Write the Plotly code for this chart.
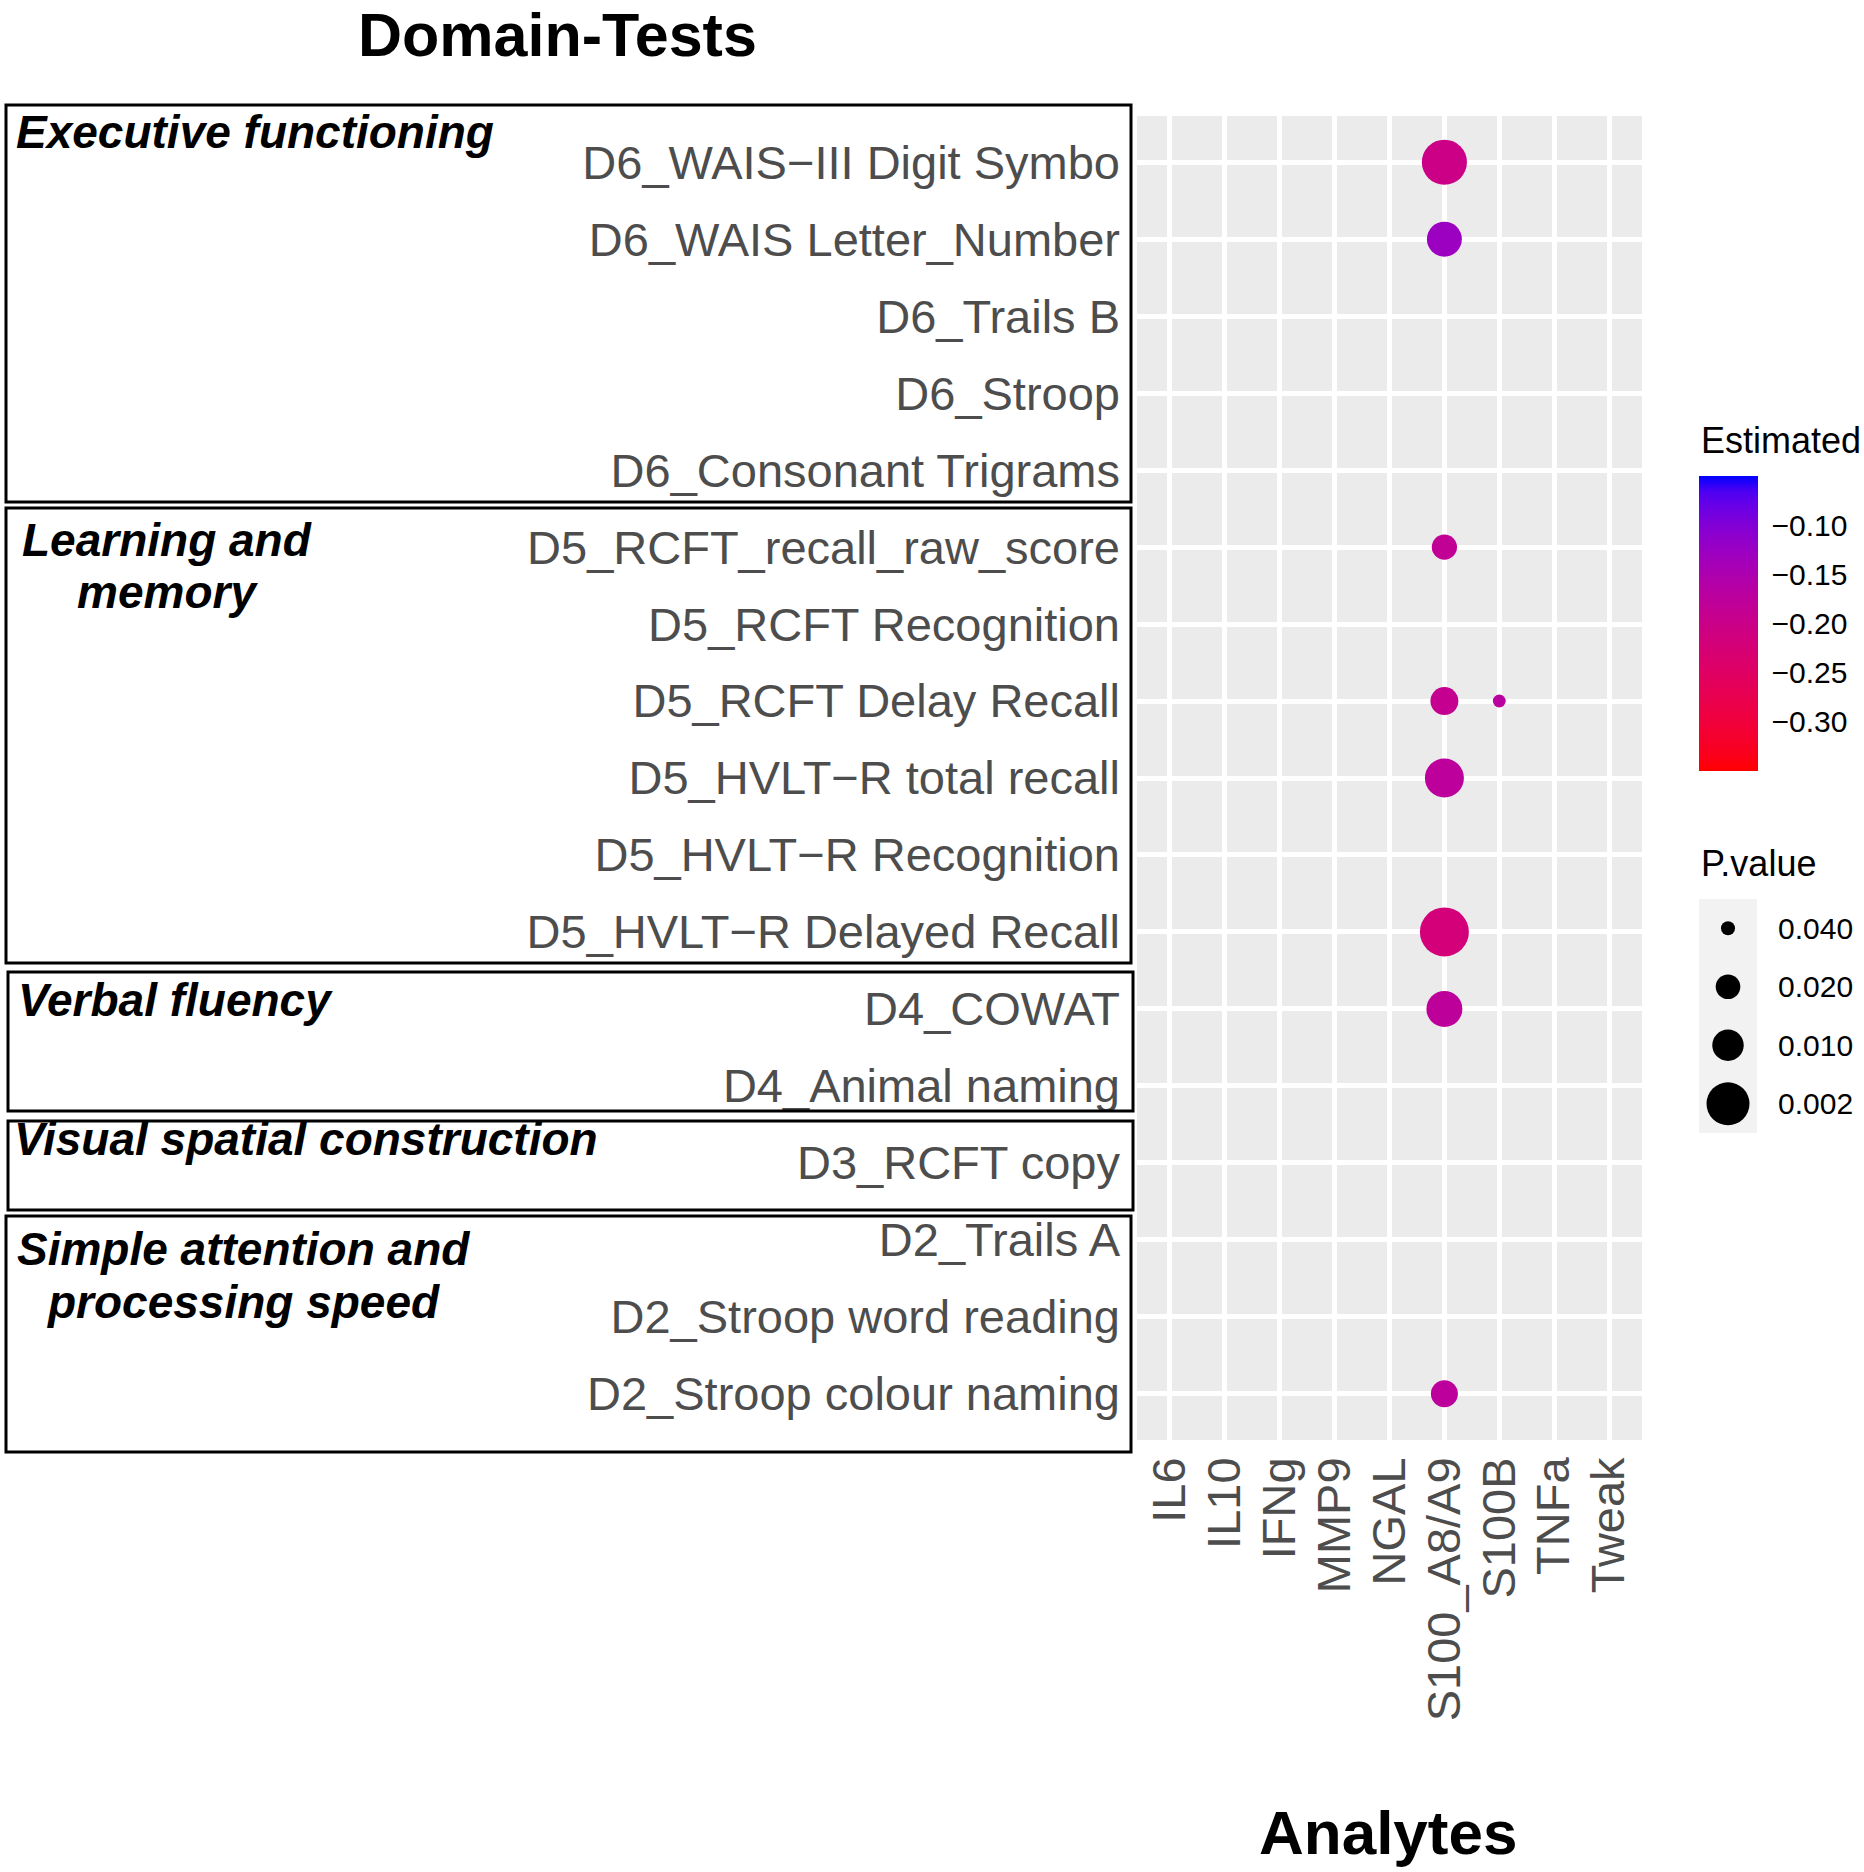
import numpy as np
import plotly.graph_objects as go

# ---------------- data ----------------
tests = [
    "D6_WAIS−III Digit Symbo", "D6_WAIS Letter_Number", "D6_Trails B", "D6_Stroop",
    "D6_Consonant Trigrams", "D5_RCFT_recall_raw_score", "D5_RCFT Recognition",
    "D5_RCFT Delay Recall", "D5_HVLT−R total recall", "D5_HVLT−R Recognition",
    "D5_HVLT−R Delayed Recall", "D4_COWAT", "D4_Animal naming", "D3_RCFT copy",
    "D2_Trails A", "D2_Stroop word reading", "D2_Stroop colour naming",
]
analytes = ["IL6", "IL10", "IFNg", "MMP9", "NGAL", "S100_A8/A9", "S100B", "TNFa", "Tweak"]

point_test = [
    "D6_WAIS−III Digit Symbo", "D6_WAIS Letter_Number", "D5_RCFT_recall_raw_score",
    "D5_RCFT Delay Recall", "D5_RCFT Delay Recall", "D5_HVLT−R total recall",
    "D5_HVLT−R Delayed Recall", "D4_COWAT", "D2_Stroop colour naming",
]
point_analyte = ["S100_A8/A9", "S100_A8/A9", "S100_A8/A9", "S100_A8/A9", "S100B",
                 "S100_A8/A9", "S100_A8/A9", "S100_A8/A9", "S100_A8/A9"]
estimated = [-0.203, -0.127, -0.184, -0.19, -0.17, -0.176, -0.22, -0.177, -0.176]
p_value = [0.0014, 0.0065, 0.019, 0.0146, 0.042, 0.0037, 0.0007, 0.0057, 0.016]

domains = ["Executive functioning", "Learning and|memory", "Verbal fluency",
           "Visual spatial construction", "Simple attention and|processing speed"]

color_ticks = [-0.30, -0.25, -0.20, -0.15, -0.10]
color_limits = [-0.35, -0.05]
size_breaks = [0.040, 0.020, 0.010, 0.002]
size_break_labels = ["0.040", "0.020", "0.010", "0.002"]

# ---------------- helpers ----------------
W, H = 1864, 1872
FONT = "Liberation Sans, Arial, Helvetica, sans-serif"


def px(x):
    return x / W


def py(y):
    return 1 - y / H


def size_scale(p):
    p = np.asarray(p, dtype=float)
    return 3.6 + 33.3 * np.sqrt(np.clip(-np.log10(p) - 1.3, 0, None))


def srgb_to_lab(rgb):
    c = np.array(rgb, dtype=float) / 255.0
    c = np.where(c > 0.04045, ((c + 0.055) / 1.055) ** 2.4, c / 12.92)
    M = np.array([[0.4124, 0.3576, 0.1805], [0.2126, 0.7152, 0.0722], [0.0193, 0.1192, 0.9505]])
    xyz = M @ c
    xyz = xyz / np.array([0.95047, 1.0, 1.08883])
    f = np.where(xyz > 0.008856, np.cbrt(xyz), 7.787 * xyz + 16 / 116)
    return np.array([116 * f[1] - 16, 500 * (f[0] - f[1]), 200 * (f[1] - f[2])])


def lab_to_srgb(lab):
    L, a, b = lab
    fy = (L + 16) / 116
    fx = fy + a / 500
    fz = fy - b / 200
    f = np.array([fx, fy, fz])
    xyz = np.where(f ** 3 > 0.008856, f ** 3, (f - 16 / 116) / 7.787)
    xyz = xyz * np.array([0.95047, 1.0, 1.08883])
    Mi = np.array([[3.2406, -1.5372, -0.4986], [-0.9689, 1.8758, 0.0415], [0.0557, -0.2040, 1.0570]])
    c = Mi @ xyz
    c = np.clip(c, 0, 1)
    c = np.where(c > 0.0031308, 1.055 * c ** (1 / 2.4) - 0.055, 12.92 * c)
    c = np.clip(np.round(c * 255), 0, 255).astype(int)
    return "rgb(%d,%d,%d)" % tuple(c)


lab_low = srgb_to_lab([255, 0, 0])
lab_high = srgb_to_lab([0, 0, 255])
colorscale = [[t, lab_to_srgb(lab_low + (lab_high - lab_low) * t)] for t in np.linspace(0, 1, 21)]

# colorbar geometry (pixels)
CB_X0, CB_X1 = 1699, 1758
CB_TOP, CB_BOT = 476, 771

# ---------------- figure ----------------
fig = go.Figure()

fig.add_trace(go.Scatter(
    x=point_analyte, y=point_test, mode="markers",
    marker=dict(size=size_scale(p_value), color=estimated, colorscale=colorscale,
                cmin=color_limits[0], cmax=color_limits[1], line=dict(width=0), opacity=1,
                colorbar=dict(
                    x=px(CB_X0), xanchor="left", y=py(CB_TOP), yanchor="top",
                    lenmode="pixels", len=CB_BOT - CB_TOP, thickness=CB_X1 - CB_X0,
                    thicknessmode="pixels",
                    outlinewidth=0, xpad=0, ypad=0,
                    tickvals=color_ticks, tickformat=".2f",
                    ticks="outside", ticklen=8, tickcolor="rgba(0,0,0,0)", tickwidth=1,
                    tickfont=dict(family=FONT, size=30, color="black"),
                )),
    showlegend=False, hoverinfo="x+y",
))

# size legend drawn on its own small axes
fig.add_trace(go.Scatter(
    x=[0] * len(size_breaks), y=size_break_labels, mode="markers",
    marker=dict(size=size_scale(size_breaks), color="#000000", opacity=1, line=dict(width=0)),
    xaxis="x2", yaxis="y2", showlegend=False, hoverinfo="skip",
))

n_t = len(tests)
n_a = len(analytes)
fig.update_layout(
    width=W, height=H, autosize=False,
    margin=dict(l=0, r=0, t=0, b=0),
    paper_bgcolor="white", plot_bgcolor="#EBEBEB",
    font=dict(family=FONT),
    xaxis=dict(
        type="category", categoryorder="array", categoryarray=analytes,
        tickmode="array", tickvals=analytes, ticktext=analytes,
        range=[-0.6, n_a - 1 + 0.6], domain=[px(1137), px(1642)], anchor="y",
        showgrid=True, gridcolor="white", gridwidth=4.5, zeroline=False, showline=False,
        ticks="", tickangle=-90, ticklabelstandoff=7,
        tickfont=dict(family=FONT, size=47, color="#4D4D4D"),
    ),
    yaxis=dict(
        type="category", categoryorder="array", categoryarray=tests,
        tickmode="array", tickvals=tests, ticktext=tests,
        range=[n_t - 1 + 0.6, -0.6], domain=[py(1440), py(116)], anchor="x",
        showgrid=True, gridcolor="white", gridwidth=4.5, zeroline=False, showline=False,
        ticks="", ticklabelstandoff=16,
        tickfont=dict(family=FONT, size=47, color="#4D4D4D"),
    ),
    xaxis2=dict(domain=[px(1699), px(1757)], range=[-1, 1], anchor="y2", visible=False,
                fixedrange=True),
    yaxis2=dict(domain=[py(1133), py(899)], anchor="x2", type="category",
                categoryorder="array", categoryarray=size_break_labels,
                range=[len(size_breaks) - 0.5, -0.5], side="right",
                showgrid=False, zeroline=False, showline=False, ticks="",
                ticklabelstandoff=20, tickfont=dict(family=FONT, size=30, color="black")),
)

# legend key background (size legend)
fig.add_shape(type="rect", xref="x2 domain", yref="y2 domain", x0=0, x1=1, y0=0, y1=1,
              fillcolor="#F2F2F2", line=dict(width=0), layer="below")

# white tick marks on both edges of the colour bar, placed by the colour scale
for v in color_ticks:
    frac = (v - color_limits[0]) / (color_limits[1] - color_limits[0])
    yp = CB_BOT - frac * (CB_BOT - CB_TOP)
    for (a, b) in [(CB_X0, CB_X0 + 12), (CB_X1 - 12, CB_X1)]:
        fig.add_shape(type="line", xref="paper", yref="paper", x0=px(a), x1=px(b),
                      y0=py(yp), y1=py(yp), line=dict(color="white", width=2), layer="above")

# domain boxes
boxes = [(6, 105, 1131, 502), (6, 508, 1131, 963), (8, 972, 1133, 1111),
         (8, 1121, 1133, 1210), (6, 1216, 1131, 1452)]
for (x0, y0, x1, y1) in boxes:
    fig.add_shape(type="rect", xref="paper", yref="paper",
                  x0=px(x0), x1=px(x1), y0=py(y1), y1=py(y0),
                  line=dict(color="black", width=3), fillcolor="rgba(0,0,0,0)", layer="above")

# domain labels (bold italic); each line separately for tight spacing
label_pos = [
    [(14, 132, "left")],
    [(167, 540, "center"), (167, 592, "center")],
    [(16, 1000, "left")],
    [(12, 1139, "left")],
    [(243, 1249, "center"), (243, 1302, "center")],
]
for name, positions in zip(domains, label_pos):
    for line, (lx, ly, anc) in zip(name.split("|"), positions):
        fig.add_annotation(text=line, x=px(lx), y=py(ly), xref="paper", yref="paper",
                           xanchor=anc, yanchor="middle", showarrow=False,
                           font=dict(family=FONT, size=46, color="black", weight="bold", style="italic"))

# titles
fig.add_annotation(text="Domain-Tests", x=px(557), y=py(35), xref="paper", yref="paper",
                   xanchor="center", yanchor="middle", showarrow=False,
                   font=dict(family=FONT, size=61, color="black", weight="bold"))
fig.add_annotation(text="Analytes", x=px(1388), y=py(1832), xref="paper", yref="paper",
                   xanchor="center", yanchor="middle", showarrow=False,
                   font=dict(family=FONT, size=62, color="black", weight="bold"))
fig.add_annotation(text="Estimated", x=px(1699), y=py(440), xref="paper", yref="paper",
                   xanchor="left", yanchor="middle", showarrow=False,
                   font=dict(family=FONT, size=36, color="black"))
fig.add_annotation(text="P.value", x=px(1699), y=py(863), xref="paper", yref="paper",
                   xanchor="left", yanchor="middle", showarrow=False,
                   font=dict(family=FONT, size=36, color="black"))

fig.write_html("out.html", config={"displayModeBar": False},
               post_script="document.body.style.margin='0';")
